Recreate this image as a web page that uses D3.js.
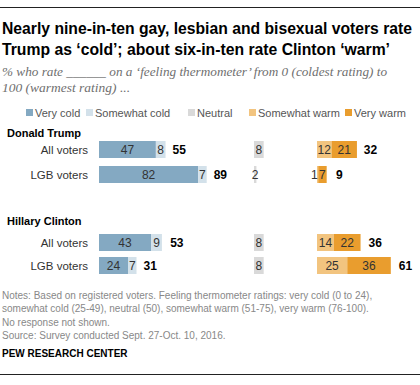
<!DOCTYPE html>
<html>
<head>
<meta charset="utf-8">
<script src="https://cdn.jsdelivr.net/npm/d3@7"></script>
<style>
  body { margin: 0; background: #fff; }
  text { font-family: "Liberation Sans", Arial, sans-serif; }
</style>
</head>
<body>
<svg width="420" height="385"></svg>
<script>
const candidates = ["Donald Trump", "Hillary Clinton"];
const groups = ["All voters", "LGB voters"];

// rows: Trump all, Trump LGB, Clinton all, Clinton LGB
const veryCold = [47, 82, 43, 24];
const somewhatCold = [8, 7, 9, 7];
const coldTotal = [55, 89, 53, 31];
const neutral = [8, 2, 8, 8];
const somewhatWarm = [12, 1, 14, 25];
const veryWarm = [21, 7, 22, 36];
const warmTotal = [32, 9, 36, 61];

const legendLabels = ["Very cold", "Somewhat cold", "Neutral", "Somewhat warm", "Very warm"];
const colors = ["#84a9c2", "#d3e1ea", "#d9d9d9", "#f2c47f", "#e99d2e"];

const svg = d3.select("svg");
const width = +svg.attr("width");

const x = d3.scaleLinear().domain([0, 100]).range([0, 121]);
const coldX = 99, neutralX = 254, warmX = 317;
const barH = 17;

// rules
svg.append("line").attr("x1", 0).attr("x2", width).attr("y1", 7.5).attr("y2", 7.5)
  .attr("stroke", "#222").attr("stroke-width", 1);
svg.append("line").attr("x1", 0).attr("x2", width).attr("y1", 374.5).attr("y2", 374.5)
  .attr("stroke", "#222").attr("stroke-width", 1);

// title
const title = ["Nearly nine-in-ten gay, lesbian and bisexual voters rate",
  "Trump as \u2018cold\u2019; about six-in-ten rate Clinton \u2018warm\u2019"];
const titleW = [410, 388];
title.forEach((t, i) => {
  svg.append("text").attr("x", 2).attr("y", 34 + i * 21)
    .attr("font-size", 16).attr("font-weight", "bold").attr("fill", "#000")
    .attr("textLength", titleW[i]).attr("lengthAdjust", "spacingAndGlyphs")
    .text(t);
});

const sub = ["% who rate ______ on a \u2018feeling thermometer\u2019 from 0 (coldest rating) to",
  "100 (warmest rating) ..."];
const subW = [385, 128];
sub.forEach((t, i) => {
  svg.append("text").attr("x", 2).attr("y", 76 + i * 16)
    .attr("font-size", 13).attr("font-style", "italic")
    .style("font-family", "'Liberation Serif', Georgia, serif")
    .attr("fill", "#6f6f6f")
    .attr("textLength", subW[i]).attr("lengthAdjust", "spacingAndGlyphs")
    .text(t);
});

// legend
const legendX = [26, 86, 188, 249, 345];
legendLabels.forEach((l, i) => {
  svg.append("rect").attr("x", legendX[i]).attr("y", 109).attr("width", 7).attr("height", 7)
    .attr("fill", colors[i]);
  svg.append("text").attr("x", legendX[i] + 9).attr("y", 117)
    .attr("font-size", 11).attr("fill", "#555").text(l);
});

// sections
const headY = [137, 225];
const rowTop = [141, 166, 234, 257];

candidates.forEach((c, i) => {
  svg.append("text").attr("x", 7).attr("y", headY[i])
    .attr("font-size", 11).attr("font-weight", "bold").attr("fill", "#000").text(c);
});

const rows = rowTop.map((top, i) => ({
  top,
  group: groups[i % 2],
  segs: [
    { x0: coldX, v: veryCold[i], c: 0 },
    { x0: coldX + x(veryCold[i]), v: somewhatCold[i], c: 1 },
    { x0: neutralX, v: neutral[i], c: 2 },
    { x0: warmX, v: somewhatWarm[i], c: 3 },
    { x0: warmX + x(somewhatWarm[i]), v: veryWarm[i], c: 4 }
  ],
  totals: [
    { x: coldX + x(coldTotal[i]) + 7, v: coldTotal[i] },
    { x: warmX + x(warmTotal[i]) + 8, v: warmTotal[i] }
  ]
}));

const row = svg.selectAll("g.row").data(rows).enter().append("g")
  .attr("class", "row").attr("transform", d => `translate(0,${d.top})`);

row.append("text").attr("x", 88).attr("y", barH / 2 + 4)
  .attr("text-anchor", "end").attr("font-size", 11.5).attr("fill", "#333")
  .text(d => d.group);

row.selectAll("rect").data(d => d.segs).enter().append("rect")
  .attr("x", d => d.x0).attr("y", 0)
  .attr("width", d => x(d.v)).attr("height", barH)
  .attr("fill", d => colors[d.c]);

// tiny warm segments get their label pushed left so it doesn't collide with the next one
row.selectAll("text.val").data(d => d.segs).enter().append("text")
  .attr("class", "val")
  .attr("x", d => (d.c === 3 && d.v < 3) ? d.x0 + x(d.v) - 0.5 : d.x0 + x(d.v) / 2)
  .attr("y", barH / 2 + 4.5)
  .attr("text-anchor", d => (d.c === 3 && d.v < 3) ? "end" : "middle")
  .attr("font-size", 12).attr("fill", "#333")
  .text(d => d.v);

row.selectAll("text.tot").data(d => d.totals).enter().append("text")
  .attr("class", "tot")
  .attr("x", d => d.x).attr("y", barH / 2 + 4.5)
  .attr("font-size", 12).attr("font-weight", "bold").attr("fill", "#000")
  .text(d => d.v);

// notes
const notes = ["Notes: Based on registered voters. Feeling thermometer ratings: very cold (0 to 24),",
  "somewhat cold (25-49), neutral (50), somewhat warm (51-75), very warm (76-100).",
  "No response not shown.",
  "Source: Survey conducted Sept. 27-Oct. 10, 2016."];
notes.forEach((t, i) => {
  svg.append("text").attr("x", 2).attr("y", 299 + i * 13.3)
    .attr("font-size", 10).attr("fill", "#888").text(t);
});
svg.append("text").attr("x", 2).attr("y", 357)
  .attr("font-size", 10).attr("font-weight", "bold").attr("fill", "#000")
  .text("PEW RESEARCH CENTER");
</script>
</body>
</html>
